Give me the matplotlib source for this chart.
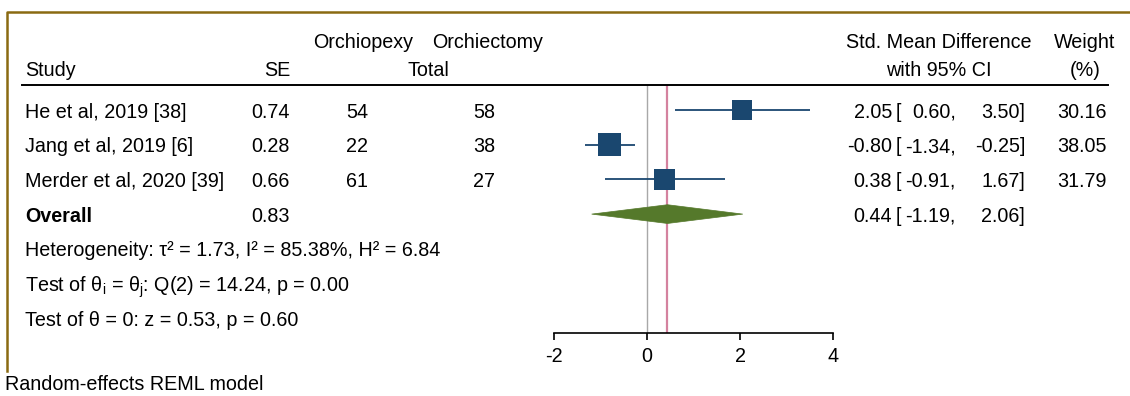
import numpy as np
import matplotlib
matplotlib.use('Agg')
import matplotlib.pyplot as plt
import matplotlib.transforms as mtransforms
from matplotlib.lines import Line2D
from matplotlib.patches import Polygon

plt.rcParams['font.family'] = ['Liberation Sans', 'DejaVu Sans']
plt.rcParams['mathtext.fontset'] = 'custom'
plt.rcParams['mathtext.rm'] = 'Liberation Sans'

# data
studies = ['He et al, 2019 [38]', 'Jang et al, 2019 [6]', 'Merder et al, 2020 [39]']
se = [0.74, 0.28, 0.66]
n_pexy = [54, 22, 61]
n_ectomy = [58, 38, 27]
smd = [2.05, -0.80, 0.38]
ci_lo = [0.60, -1.34, -0.91]
ci_hi = [3.50, -0.25, 1.67]
weight = [30.16, 38.05, 31.79]
overall_se = 0.83
overall = 0.44
overall_lo = -1.19
overall_hi = 2.06
stats_lines = [
    'Heterogeneity: τ² = 1.73, I² = 85.38%, H² = 6.84',
    r'Test of θ$_\mathregular{i}$ = θ$_\mathregular{j}$: Q(2) = 14.24, p = 0.00',
    'Test of θ = 0: z = 0.53, p = 0.60',
]
xticks = [-2, 0, 2, 4]

W, H = 1130, 396
FS = 14.2
NAVY = '#1a476f'
GREEN = '#55792b'
PINK = '#d4829f'
GOLD = '#8a6a12'

fig = plt.figure(figsize=(W / 100, H / 100), dpi=100)

# plot area: -2..4 spans pixels 554..833, rows between the header rule and the axis
y_top, y_bot = 85, 333
row0, row_h = 110, 34.7
ax = fig.add_axes([554 / W, 1 - y_bot / H, (833 - 554) / W, (y_bot - y_top) / H])
ax.set_xlim(-2, 4)
ax.set_ylim(1 + (y_bot - row0) / row_h, 1 + (y_top - row0) / row_h)

rows = np.arange(1, len(studies) + 1)
overall_row = len(studies) + 1

ax.axvline(0, color='#a8a8a8', lw=1, zorder=1)
ax.axvline(overall, color=PINK, lw=1.6, zorder=1)

ax.hlines(rows, ci_lo, ci_hi, color=NAVY, lw=1.3, zorder=2)
sides = 0.72 * 3.7 * np.sqrt(weight)
ax.scatter(smd, rows, s=sides ** 2, marker='s', color=NAVY, linewidths=0, zorder=3)

dh = 0.27
diamond = Polygon([(overall_lo, overall_row), (overall, overall_row - dh),
                   (overall_hi, overall_row), (overall, overall_row + dh)],
                  closed=True, fc=GREEN, ec=GREEN, lw=0.5, zorder=3)
ax.add_patch(diamond)

for s in ['top', 'left', 'right']:
    ax.spines[s].set_visible(False)
ax.spines['bottom'].set_linewidth(1.2)
ax.set_yticks([])
ax.set_xticks(xticks)
ax.set_xticklabels([str(t) for t in xticks])
ax.tick_params(axis='x', direction='out', length=5, width=1.2, pad=5, labelsize=FS)

# text columns: x in figure pixels, y in row units
tr = mtransforms.blended_transform_factory(fig.transFigure, ax.transData)


def put(px, r, s, ha='left', **kw):
    ax.text(px / W, r, s, transform=tr, ha=ha, va='center_baseline', fontsize=FS, **kw)


hdr1, hdr2 = 1 + (41 - row0) / row_h, 1 + (68 - row0) / row_h
put(363, hdr1, 'Orchiopexy', ha='center')
put(488, hdr1, 'Orchiectomy', ha='center')
put(939, hdr1, 'Std. Mean Difference', ha='center')
put(1085, hdr1, 'Weight', ha='center')
put(25, hdr2, 'Study')
put(290, hdr2, 'SE', ha='right')
put(428, hdr2, 'Total', ha='center')
put(939, hdr2, 'with 95% CI', ha='center')
put(1085, hdr2, '(%)', ha='center')


def ci_text(r, est, lo, hi):
    put(892, r, f'{est:.2f}', ha='right')
    put(896, r, '[')
    put(956, r, f'{lo:.2f},', ha='right')
    put(1025, r, f'{hi:.2f}]', ha='right')


for i, r in enumerate(rows):
    put(25, r, studies[i])
    put(290, r, f'{se[i]:.2f}', ha='right')
    put(368, r, str(n_pexy[i]), ha='right')
    put(495, r, str(n_ectomy[i]), ha='right')
    ci_text(r, smd[i], ci_lo[i], ci_hi[i])
    put(1107, r, f'{weight[i]:.2f}', ha='right')

put(25, overall_row, 'Overall', fontweight='bold')
put(290, overall_row, f'{overall_se:.2f}', ha='right')
ci_text(overall_row, overall, overall_lo, overall_hi)

for k, line in enumerate(stats_lines):
    put(25, overall_row + 1 + k, line)

# header rule
fig.add_artist(Line2D([22 / W, 1108 / W], [1 - 85 / H, 1 - 85 / H], color='black', lw=1.4))
# golden frame
fig.add_artist(Line2D([7 / W, 7 / W, 1], [1 - 371 / H, 1 - 12 / H, 1 - 12 / H], color=GOLD, lw=1.8))

fig.text(5 / W, 1 - 383 / H, 'Random-effects REML model', ha='left', va='center_baseline', fontsize=FS)

fig.savefig('out.png', dpi=100)
